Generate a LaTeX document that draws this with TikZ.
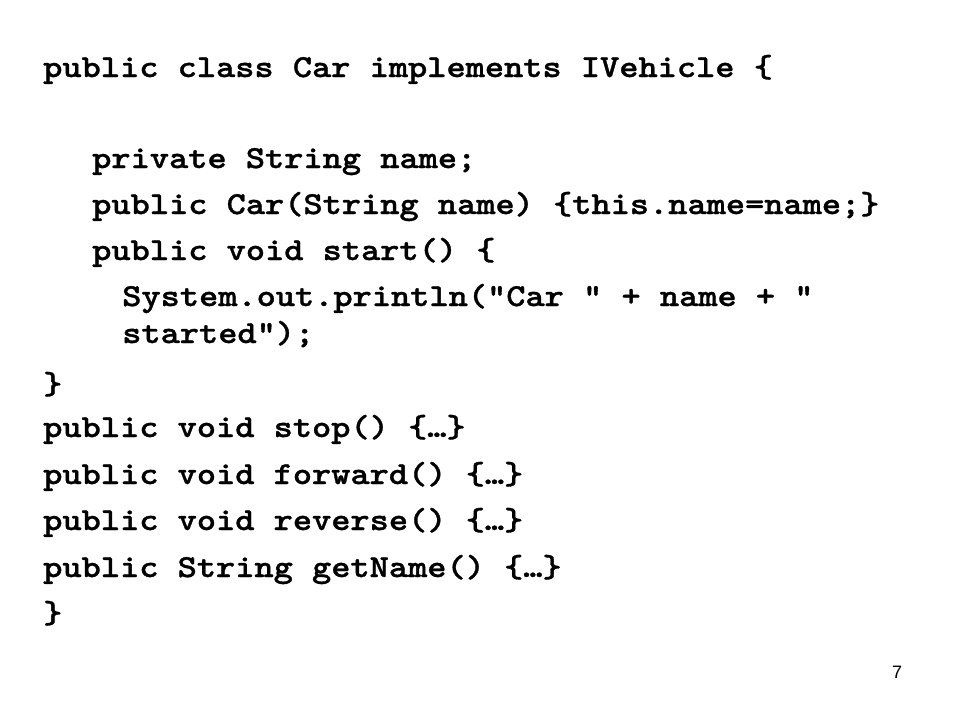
\documentclass[tikz,border=0pt]{standalone}
\usepackage{fontspec}
\setmainfont{Liberation Sans}
\newfontfamily\codefont{lmmonolt10-bold.otf}[FakeStretch=1.1429,FakeBold=1]
\begin{document}
\begin{tikzpicture}
[x=0.75bp,y=-0.75bp,
  codeline/.style={anchor=base west,inner sep=0pt,font=\codefont\fontsize{24bp}{28bp}\selectfont},%
  pagedecorate/.style={anchor=base,inner sep=0pt,font=\fontsize{13.5bp}{16bp}\selectfont}]
\useasboundingbox[fill=white] (0,0) rectangle (960,720);
%% code lines
\foreach \nodename/\x/\y/\code in {l1/43/77/{public class Car implements IVehicle \{},
  l2/92/168/{private String name;},
  l3/92/214/{public Car(String name) \{this.name=name;\}},
  l4/92/260/{public void start() \{},
  l5/122/306/{System.out.println("Car " + name + "},
  l6/122/343/{started");},
  l7/43/394/{\}},
  l8/43/437/{public void stop() \{…\}},
  l9/43/484/{public void forward() \{…\}},
  l10/43/530/{public void reverse() \{…\}},
  l11/43/577/{public String getName() \{…\}},
  l12/43/623/{\}}} {
  \node (\nodename) at (\x,\y) [codeline] {\code};
}
%% slide number
\node (pagenum) at (897,678) [pagedecorate] {7};
\end{tikzpicture}
\end{document}
